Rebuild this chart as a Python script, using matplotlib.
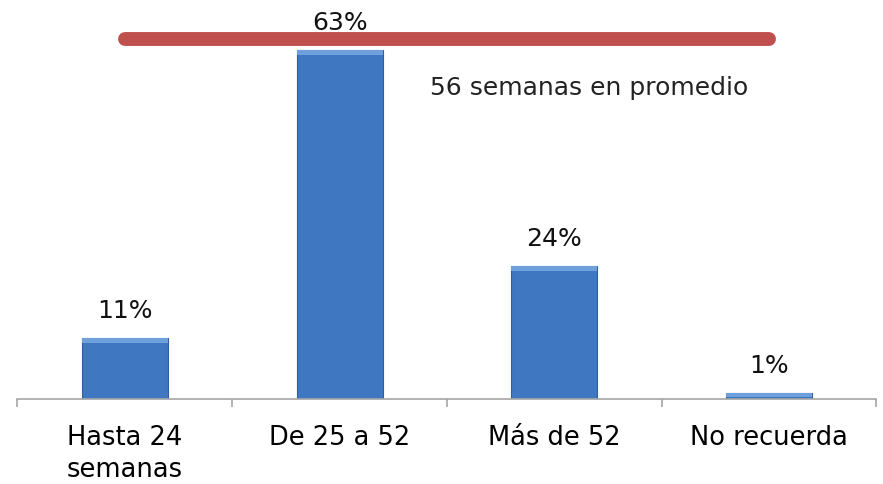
import matplotlib
matplotlib.use('Agg')
import matplotlib.pyplot as plt

categories = ['Hasta 24\nsemanas', 'De 25 a 52', 'Más de 52', 'No recuerda']
values = [11, 63, 24, 1]
labels = ['11%', '63%', '24%', '1%']
avg_level = 65
avg_text = '56 semanas en promedio'

fig = plt.figure(figsize=(8.83, 4.85), dpi=100)
ax = fig.add_axes([0.0198, 0.1753, 0.9728, 0.8227])

x = list(range(len(categories)))
ax.bar(x, values, width=0.4, color='#3F77C1', edgecolor='#2F5F9F', linewidth=0.8)
# lighter bevel on top of each bar
strip = [min(v * 0.6, 0.9) for v in values]
ax.bar(x, strip, bottom=[v - s for v, s in zip(values, strip)],
       width=0.4, color='#6FA0DC', linewidth=0)

for xi, v, lab in zip(x, values, labels):
    ax.text(xi, v + 3.8, lab, ha='center', va='baseline', fontsize=18, color='#111111')

ax.plot([0, 3], [avg_level, avg_level], color='#C0504D', lw=10, solid_capstyle='round', zorder=1)
ax.text(1.42, 55.1, avg_text, ha='left', va='baseline', fontsize=18, color='#222222')

ax.set_xlim(-0.5, 3.5)
ax.set_ylim(0, 72)
for s in ['top', 'right', 'left']:
    ax.spines[s].set_visible(False)
ax.spines['bottom'].set_color('#A6A6A6')
ax.spines['bottom'].set_linewidth(1.2)
ax.set_yticks([])
ax.set_xticks(x)
ax.set_xticklabels(categories, fontsize=18.5, linespacing=1.3)
ax.tick_params(axis='x', which='major', length=0, pad=18)
ax.set_xticks([-0.5, 0.5, 1.5, 2.5, 3.5], minor=True)
ax.tick_params(axis='x', which='minor', length=6, color='#A6A6A6', width=1.2)

fig.savefig('out.png', dpi=100)
